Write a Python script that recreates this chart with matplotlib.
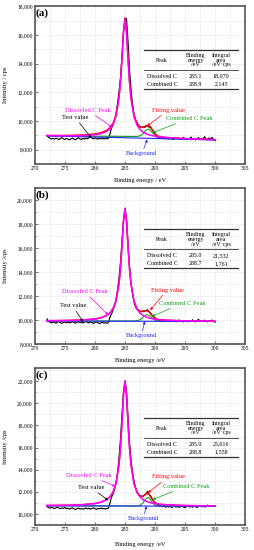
import numpy as np
import matplotlib.pyplot as plt
from matplotlib.ticker import MultipleLocator, StrMethodFormatter

plt.rcParams['font.family'] = ['Liberation Serif', 'DejaVu Serif']

# measured scan: 272 -> 300 eV, 0.25 eV step
scan_start = 272.0
scan_step = 0.25

test_a = [8980, 8860, 8800, 8740, 8790, 8730, 8810, 8760,
          8700, 8780, 8840, 8750, 8710, 8790, 8740, 8680,
          8750, 8810, 8730, 8690, 8770, 8830, 8750, 8710,
          8790, 8740, 8810, 8760, 8830, 8880, 8810, 8750,
          8820, 8770, 8730, 8800, 8750, 8810, 8740, 8790,
          8750, 8800, 9100, 9500, 9700, 10050, 10500, 11200,
          12000, 13000, 14500, 16200, 17000, 17150, 15600, 13600,
          12200, 11200, 10500, 10100, 9900, 9700, 9620, 9560,
          9580, 9540, 9620, 9700, 9560, 9600, 9420, 9250,
          9100, 8980, 8900, 8850, 8820, 8780, 8850, 8760,
          8800, 8740, 8820, 8760, 8700, 8800, 8760, 8840,
          8720, 8780, 8700, 8860, 8750, 8690, 8800, 8740,
          8880, 8720, 8790, 8680, 8760, 8850, 8700, 8780,
          8720, 8900, 8760, 8700, 8820, 8740, 8860, 8700,
          8620]
test_b = [10100, 9880, 9820, 9760, 9840, 9790, 9740, 9820,
          9860, 9780, 9720, 9800, 9850, 9770, 9830, 9760,
          9800, 9870, 9790, 9740, 9810, 9860, 9780, 9820,
          9750, 9830, 9880, 9800, 9760, 9840, 9780, 9720,
          9800, 9850, 9770, 9700, 9760, 9820, 9740, 9780,
          9730, 9790, 10250, 10500, 10800, 11200, 11700, 12500,
          13500, 14800, 16600, 18300, 19000, 18600, 16500, 14500,
          13100, 12200, 11500, 11100, 10900, 10800, 10750, 10700,
          10760, 10720, 10800, 10850, 10700, 10600, 10400, 10250,
          10150, 10080, 10020, 9960, 10000, 9920, 9980, 9880,
          9950, 9860, 9930, 9990, 9880, 9940, 9850, 9920,
          10010, 9870, 9930, 9840, 9960, 9900, 9850, 9940,
          9880, 10020, 9900, 9840, 9950, 10060, 9890, 9940,
          9860, 9990, 9900, 9850, 9960, 9880, 10000, 9900,
          9820]
test_c = [10650, 10580, 10520, 10600, 10540, 10480, 10560, 10610,
          10530, 10470, 10550, 10500, 10580, 10460, 10520, 10430,
          10500, 10560, 10450, 10400, 10480, 10530, 10440, 10500,
          10420, 10480, 10540, 10460, 10510, 10430, 10490, 10550,
          10470, 10420, 10500, 10460, 10530, 10470, 10500, 10440,
          10490, 10520, 11000, 11500, 11800, 12200, 12800, 13700,
          15000, 16800, 19000, 21000, 22000, 21200, 18800, 16500,
          14900, 13800, 13000, 12400, 12000, 11800, 11650, 11600,
          11620, 11700, 11800, 12050, 11750, 11650, 11400, 11150,
          11000, 10900, 10820, 10700, 10760, 10650, 10720, 10600,
          10680, 10620, 10700, 10580, 10660, 10720, 10610, 10680,
          10590, 10650, 10720, 10620, 10560, 10660, 10700, 10620,
          10680, 10600, 10720, 10650, 10590, 10680, 10760, 10640,
          10700, 10620, 10690, 10800, 10660, 10720, 10680, 10760,
          10700]

# fitted curves
fit_energy = [272, 274, 276, 278, 280, 281, 282, 282.5, 283, 283.5, 284, 284.25,
              284.5, 284.75, 285, 285.25, 285.5, 285.75, 286, 286.5, 287, 287.5,
              288, 288.5, 289, 289.5, 290, 290.5, 291, 292, 294, 296, 298, 300]

dissolved_a = [8984, 8973, 8970, 8982, 9039, 9116, 9287, 9456, 9751, 10325, 11561, 12691,
               14310, 16168, 17100, 16163, 14300, 12676, 11541, 10295, 9711, 9406,
               9227, 9113, 9036, 8980, 8939, 8906, 8881, 8842, 8790, 8753, 8724, 8698]
combined_a = [8960, 8955, 8950, 8945, 8940, 8938, 8935, 8934, 8932, 8930, 8928, 8927,
              8926, 8925, 8924, 8923, 8922, 8921, 8920, 8917, 8917, 8962,
              9120, 9355, 9430, 9218, 8957, 8820, 8775, 8765, 8740, 8720, 8700, 8680]
fitting_a = [8984, 8988, 9000, 9027, 9099, 9184, 9362, 9535, 9833, 10410, 11649, 12780,
             14401, 16260, 17194, 16258, 14397, 12774, 11641, 10397, 9818, 9563,
             9547, 9673, 9676, 9413, 9116, 8951, 8886, 8847, 8790, 8753, 8724, 8698]
background_a = [8960, 8680]

dissolved_b = [9947, 9955, 9970, 10004, 10088, 10186, 10390, 10587, 10928, 11585, 12995, 14281,
               16124, 18238, 19300, 18238, 16122, 14279, 12992, 11581, 10922, 10579,
               10381, 10257, 10173, 10116, 10073, 10041, 10017, 9983, 9943, 9922, 9908, 9899]
combined_b = [9920, 9919, 9918, 9918, 9917, 9917, 9916, 9916, 9916, 9915, 9915, 9915,
              9915, 9915, 9915, 9915, 9914, 9914, 9914, 9916, 9935, 10025,
              10233, 10436, 10405, 10175, 9983, 9909, 9892, 9890, 9887, 9884, 9881, 9878]
fitting_b = [9947, 9957, 9974, 10011, 10097, 10197, 10401, 10599, 10941, 11598, 13008, 14295,
             16138, 18253, 19315, 18253, 16137, 14294, 13007, 11599, 10960, 10708,
             10718, 10798, 10684, 10397, 10163, 10058, 10018, 9983, 9943, 9922, 9908, 9899]
background_b = [9920, 9878]

dissolved_c = [10763, 10773, 10794, 10836, 10939, 11057, 11303, 11541, 11951, 12741, 14436, 15984,
               18198, 20740, 22017, 20740, 18197, 15982, 14434, 12738, 11947, 11536,
               11297, 11148, 11049, 10979, 10929, 10891, 10862, 10822, 10776, 10751, 10737, 10727]
combined_c = [10730, 10729, 10728, 10727, 10726, 10725, 10725, 10725, 10724, 10724, 10724, 10723,
              10723, 10723, 10722, 10722, 10722, 10721, 10721, 10720, 10723, 10768,
              10997, 11405, 11463, 11071, 10787, 10718, 10711, 10710, 10708, 10706, 10704, 10702]
fitting_c = [10763, 10774, 10796, 10839, 10943, 11061, 11308, 11547, 11956, 12747, 14442, 15989,
             18204, 20746, 22022, 20745, 18203, 15987, 14439, 12743, 11955, 11590,
             11580, 11840, 11799, 11338, 11004, 10898, 10862, 10822, 10776, 10751, 10737, 10727]
background_c = [10730, 10702]
background_energy = [272, 300]

table_header = ["Peak", "Binding\nenergy\n/eV", "Integral\narea\n/eV\u00b7cps"]
table_a = [["Dissolved C", "285.1", "18,070"], ["Combined C", "288.9", "2,145"]]
table_b = [["Dissolved C", "285.0", "21,532"], ["Combined C", "288.7", "1,761"]]
table_c = [["Dissolved C", "285.0", "25,616"], ["Combined C", "288.8", "1,558"]]

MAGENTA = "#ff00ff"
RED = "#ff0000"
GREEN = "#11a011"
BLUE = "#2222ff"


def draw_table(ax, top, rows, hpx):
    d = lambda p: p / hpx
    x0, x1 = 0.517, 0.968
    cols = [0.605, 0.765, 0.886]
    for y, lw in ((top, 0.9), (top - d(20), 0.6), (top - d(39), 0.9)):
        ax.plot([x0, x1], [y, y], transform=ax.transAxes, color="#333333",
                lw=lw, clip_on=False, zorder=6)
    ax.text(cols[0], top - d(10.5), table_header[0], transform=ax.transAxes,
            ha="center", va="center", fontsize=4.3, zorder=6)
    for c, txt in zip(cols[1:], table_header[1:]):
        ax.text(c, top - d(10), txt, transform=ax.transAxes, ha="center",
                va="center", fontsize=4.3, linespacing=0.95, zorder=6)
    for i, row in enumerate(rows):
        y = top - d(26 + 8 * i)
        for c, txt in zip(cols, row):
            ax.text(c, y, txt, transform=ax.transAxes, ha="center",
                    va="center", fontsize=4.3, zorder=6)


def draw_panel(fig, pos, label, test, dissolved, combined, fitting, background,
               ylim, yticks, table, table_top, notes, ylab, xlab, xlab_y):
    ax = fig.add_axes(pos)
    hpx = pos[3] * 550
    energy = scan_start + scan_step * np.arange(len(test))

    ax.plot(energy, test, color="black", lw=0.8, zorder=2)
    ax.plot(fit_energy, fitting, color=RED, lw=1.0, zorder=3)
    ax.plot(fit_energy, combined, color=GREEN, lw=0.8, zorder=4)
    ax.plot(background_energy, background, color=BLUE, lw=0.8, zorder=4)
    ax.plot(fit_energy, dissolved, color=MAGENTA, lw=1.1, zorder=5)

    ax.set_xlim(270, 305)
    ax.set_ylim(*ylim)
    ax.set_xticks(np.arange(270, 306, 5))
    ax.set_yticks(yticks)
    ax.xaxis.set_minor_locator(MultipleLocator(2.5))
    ax.yaxis.set_minor_locator(MultipleLocator(1000))
    ax.yaxis.set_major_formatter(StrMethodFormatter("{x:,.0f}"))
    ax.tick_params(which="both", direction="in", labelsize=4, pad=1.5,
                   width=0.5, color="#444444")
    ax.tick_params(which="major", length=2)
    ax.tick_params(which="minor", length=1)
    ax.grid(which="both", color="#cfcfcf", ls=":", lw=0.5)
    for s in ax.spines.values():
        s.set_color("#555555")
        s.set_linewidth(1.2)

    ax.set_ylabel(ylab, fontsize=4.6)
    ax.set_xlabel(xlab, fontsize=4.6)
    ax.yaxis.set_label_coords(-0.13, 0.5)
    ax.xaxis.set_label_coords(0.5, xlab_y)

    ax.text(0.004, 0.985, label, transform=ax.transAxes, ha="left", va="top",
            fontsize=8, fontweight="bold", zorder=7)

    for txt, color, xy, xytext in notes:
        ax.annotate(txt, xy=xy, xytext=xytext, color=color, fontsize=4.6,
                    ha="center", va="center", zorder=7,
                    arrowprops=dict(arrowstyle="-|>", color=color, lw=0.5,
                                    mutation_scale=3.5, shrinkA=0, shrinkB=0))

    draw_table(ax, table_top, table, hpx)
    return ax


notes_a = [("Dissovled C Peak", MAGENTA, (282.9, 9550), (278.8, 10750)),
           ("Test value", "black", (279.4, 8820), (276.7, 10240)),
           ("Fitting value", RED, (288.7, 9650), (292.2, 10750)),
           ("Combined C Peak", GREEN, (289.6, 9180), (295.7, 10170)),
           ("Background", BLUE, (288.7, 8700), (287.8, 7700))]
notes_b = [("Dissovled C Peak", MAGENTA, (282.2, 10420), (278.3, 12360)),
           ("Test value", "black", (278.0, 9860), (276.3, 11170)),
           ("Fitting value", RED, (289.2, 10830), (292.0, 12500)),
           ("Combined C Peak", GREEN, (289.5, 10300), (294.5, 11390)),
           ("Background", BLUE, (288.3, 9890), (287.7, 8670))]
notes_c = [("Dissovled C Peak", MAGENTA, (283.4, 12500), (279.0, 13490)),
           ("Test value", "black", (282.2, 11240), (279.3, 12380)),
           ("Fitting value", RED, (288.8, 11900), (292.2, 13340)),
           ("Combined C Peak", GREEN, (289.6, 11300), (295.2, 12500)),
           ("Background", BLUE, (288.6, 10710), (288.0, 9550))]

fig = plt.figure(figsize=(2.55, 5.5), dpi=100)

draw_panel(fig, [0.137, 0.7018, 0.824, 0.287], "(a)", test_a, dissolved_a,
           combined_a, fitting_a, background_a, (7000, 18000),
           np.arange(8000, 18001, 2000), table_a, 0.722, notes_a,
           "Intensity / cps", "Binding energy / eV", -0.09)
draw_panel(fig, [0.137, 0.3745, 0.824, 0.2836], "(b)", test_b, dissolved_b,
           combined_b, fitting_b, background_b, (8000, 21000),
           np.arange(8000, 20001, 2000), table_b, 0.735, notes_b,
           "Intensity /cps", "Binding energy /eV", -0.09)
draw_panel(fig, [0.137, 0.0455, 0.824, 0.2855], "(c)", test_c, dissolved_c,
           combined_c, fitting_c, background_c, (9000, 23200),
           np.arange(10000, 22001, 2000), table_c, 0.68, notes_c,
           "Intensity /cps", "Binding energy /eV", -0.11)

fig.savefig("out.png", dpi=100)
